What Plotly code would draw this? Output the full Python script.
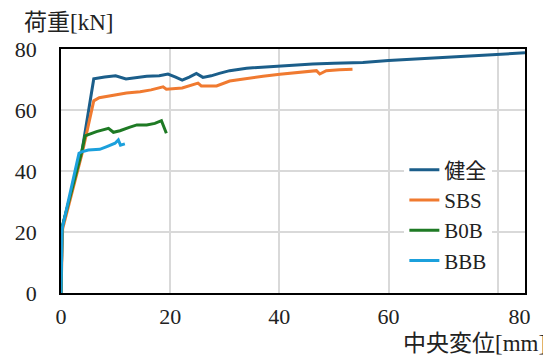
import plotly.graph_objects as go

# ---- data ----
names = ["健全", "SBS", "B0B", "BBB"]
colors = ["#1B5E8A", "#F07A30", "#1E7A24", "#1BA0DC"]

x_kenzen = [0, 0.2, 3.8, 6.0, 8.0, 10.0, 11.9, 14.0, 15.7, 18.0, 19.6, 21.0, 22.2, 23.5,
            24.8, 26.0, 27.5, 29.0, 30.9, 34.0, 37.0, 40.1, 43.0, 46.1, 50.0, 55.3, 60.0,
            64.4, 69.0, 73.6, 79.0, 85.0]
y_kenzen = [0, 21.5, 46.0, 70.2, 70.8, 71.2, 70.2, 70.6, 71.1, 71.2, 71.8, 70.8, 69.8, 70.8,
            72.0, 70.7, 71.2, 72.0, 72.9, 73.7, 74.1, 74.5, 74.8, 75.1, 75.3, 75.6, 76.2,
            76.6, 77.0, 77.5, 78.1, 78.8]

x_sbs = [0, 0.3, 3.9, 6.0, 7.0, 8.1, 10.0, 12.0, 14.5, 16.5, 18.7, 19.3, 22.2, 25.1, 25.7,
         28.5, 30.9, 34.0, 37.0, 40.1, 43.5, 46.8, 47.4, 48.6, 51.0, 53.4]
y_sbs = [0, 21.0, 46.0, 63.0, 64.0, 64.4, 65.0, 65.6, 66.0, 66.6, 67.6, 66.8, 67.2, 68.8, 67.9,
         67.9, 69.5, 70.4, 71.1, 71.7, 72.3, 72.9, 71.8, 72.9, 73.2, 73.4]

x_b0b = [0, 0.2, 3.8, 4.4, 6.5, 8.7, 9.6, 10.8, 12.5, 13.9, 15.7, 17.2, 18.4, 18.9, 19.3]
y_b0b = [0, 21.5, 46.3, 51.5, 52.9, 54.0, 52.7, 53.2, 54.3, 55.1, 55.1, 55.6, 56.5, 54.0, 52.4]

x_bbb = [0, 0.2, 3.3, 3.8, 5.0, 7.1, 8.4, 9.9, 10.5, 10.9, 11.7]
y_bbb = [0, 21.0, 45.8, 46.3, 46.9, 47.1, 48.0, 49.1, 50.2, 48.5, 48.9]

x_grid_vals = [0, 20, 40, 60, 80]
x_label_vals = [0, 20, 40, 60, 84]
x_label_text = ["0", "20", "40", "60", "80"]
y_tick_vals = [0, 20, 40, 60, 80]

FONT = "Liberation Serif, Noto Sans CJK JP, serif"

fig = go.Figure()
for nm, col, xs, ys in zip(names, colors,
                           [x_kenzen, x_sbs, x_b0b, x_bbb],
                           [y_kenzen, y_sbs, y_b0b, y_bbb]):
    fig.add_trace(go.Scatter(x=xs, y=ys, mode="lines", name=nm,
                             line=dict(color=col, width=3)))

# empty trace so the label axis is drawn
fig.add_trace(go.Scatter(x=[None], y=[None], xaxis="x2", showlegend=False,
                         hoverinfo="skip"))

fig.update_layout(
    width=543, height=347,
    margin=dict(l=53, r=26, t=41, b=62, autoexpand=False),
    paper_bgcolor="white", plot_bgcolor="white",
    font=dict(family=FONT, size=22, color="#222222"),
    xaxis=dict(range=[0, 85], tickmode="array", tickvals=x_grid_vals,
               showticklabels=False, showgrid=True, gridcolor="#D9D9D9",
               gridwidth=1.5, zeroline=False, showline=True, linecolor="black",
               linewidth=1.5, mirror=True, ticks="", automargin=False),
    xaxis2=dict(range=[0, 85], overlaying="x", side="bottom", anchor="y",
                tickmode="array", tickvals=x_label_vals, ticktext=x_label_text,
                showgrid=False, zeroline=False, showline=False, ticks="",
                ticklabelstandoff=8, tickfont=dict(size=22, family=FONT),
                automargin=False),
    yaxis=dict(range=[0, 80], tickmode="array", tickvals=y_tick_vals,
               showgrid=True, gridcolor="#D9D9D9", gridwidth=1.5,
               zeroline=False, showline=True, linecolor="black", linewidth=1.5,
               mirror=True, ticks="", ticklabelstandoff=18,
               tickfont=dict(size=22, family=FONT), automargin=False),
    legend=dict(x=0.74, y=0.588, xanchor="left", yanchor="top",
                bgcolor="white", borderwidth=0, font=dict(size=21, family=FONT),
                tracegroupgap=0),
    showlegend=True,
    annotations=[
        dict(text="荷重[kN]", xref="paper", yref="paper", x=-0.085, y=1.11,
             xanchor="left", yanchor="middle", showarrow=False,
             font=dict(size=23, family=FONT)),
        dict(text="中央変位[mm]", xref="paper", yref="paper", x=1.05, y=-0.205,
             xanchor="right", yanchor="middle", showarrow=False,
             font=dict(size=23, family=FONT)),
    ],
)

fig.write_html("out.html")
